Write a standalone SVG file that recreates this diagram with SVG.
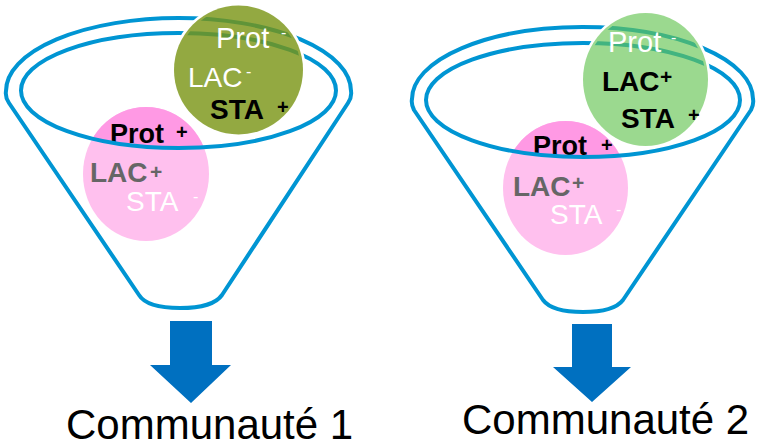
<svg xmlns="http://www.w3.org/2000/svg" width="757" height="448" viewBox="0 0 757 448">
<style>
.funnel{fill:none;stroke:#0095d3;stroke-width:4;stroke-linejoin:round}
.t{font-family:"Liberation Sans",Arial,sans-serif}
.b{font-weight:bold}
.w{fill:#ffffff}
.k{fill:#000000}
.g{fill:#666666}
.halo{fill:none;stroke:#ffffff;stroke-width:5}
.arrow{fill:#0070c0}
.lab{font-family:"Liberation Sans",Arial,sans-serif;font-size:42px;fill:#000}
</style>
<defs>
<clipPath id="in1"><ellipse cx="178.5" cy="90.5" rx="157.5" ry="57.5"/></clipPath>
<clipPath id="in2"><ellipse cx="583" cy="100" rx="157" ry="57"/></clipPath>
</defs>
<rect width="757" height="448" fill="#ffffff"/>

<g id="pink1">
<ellipse cx="146" cy="174" rx="63" ry="67" fill="#ffc0ee"/>
<ellipse cx="146" cy="174" rx="63" ry="67" fill="#ff99e4" clip-path="url(#in1)"/>
<text class="t b k" x="110" y="143" font-size="27">Prot</text>
<text class="t b k" x="176" y="139" font-size="20">+</text>
<text class="t b g" x="90" y="182" font-size="28">LAC</text>
<text class="t b g" x="150" y="179" font-size="21">+</text>
<text class="t w" x="126" y="211" font-size="28">STA</text>
<text class="t w" x="193" y="201.5" font-size="16">-</text>
</g>

<g id="funnel1">
<path class="funnel" d="M139,295 L9,103 Q5,97 6,91 A172.5,73 0 0 1 351,91 Q352,97 348,103 L222,295 Q213,308 180,308 Q147,308 139,295 Z"/>
<ellipse class="funnel" cx="178.5" cy="90.5" rx="157.5" ry="57.5"/>
</g>

<g id="green1">
<circle class="halo" cx="238.5" cy="70" r="64.5"/>
<circle cx="238.5" cy="70" r="64.5" fill="#789311" fill-opacity="0.8"/>
<text class="t w" x="216" y="48" font-size="29">Prot</text>
<text class="t w" x="281" y="37.5" font-size="16">-</text>
<text class="t w" x="188" y="87" font-size="28">LAC</text>
<text class="t w" x="246" y="76.5" font-size="16">-</text>
<text class="t b k" x="210" y="119" font-size="28">STA</text>
<text class="t b k" x="277" y="114" font-size="20">+</text>
</g>

<g id="pink2">
<ellipse cx="565.5" cy="188" rx="62.5" ry="67" fill="#ffc0ee"/>
<ellipse cx="565.5" cy="188" rx="62.5" ry="67" fill="#ff99e4" clip-path="url(#in2)"/>
<text class="t b k" x="533" y="155" font-size="27">Prot</text>
<text class="t b k" x="601" y="152" font-size="20">+</text>
<text class="t b g" x="513" y="196" font-size="28">LAC</text>
<text class="t b g" x="572" y="190" font-size="21">+</text>
<text class="t w" x="550" y="224" font-size="28">STA</text>
<text class="t w" x="616" y="214.5" font-size="16">-</text>
</g>

<g id="funnel2">
<path class="funnel" d="M543,300 L414,110 Q411,104 412,99 A170.5,72 0 0 1 753,99 Q754,104 751,110 L623,300 Q614,312 583,312 Q552,312 543,300 Z"/>
<ellipse class="funnel" cx="583" cy="100" rx="157" ry="57"/>
</g>

<g id="green2">
<ellipse class="halo" cx="645.5" cy="79.5" rx="62.5" ry="66.5"/>
<ellipse cx="645.5" cy="79.5" rx="62.5" ry="66.5" fill="#65c553" fill-opacity="0.65"/>
<text class="t w" x="608" y="52" font-size="29">Prot</text>
<text class="t w" x="671" y="42.5" font-size="16">-</text>
<text class="t b k" x="602" y="91" font-size="28">LAC</text>
<text class="t b k" x="660" y="84" font-size="21">+</text>
<text class="t b k" x="621" y="128" font-size="28">STA</text>
<text class="t b k" x="688" y="122" font-size="20">+</text>
</g>

<g id="connectors">
<path class="arrow" d="M170,321 L212,321 L212,365 L231,365 L191,403 L150,365 L170,365 Z"/>
<path class="arrow" d="M572,324 L612,324 L612,367 L631,367 L592,402 L553,367 L572,367 Z"/>
</g>

<g id="label1"><text class="lab" x="66" y="439">Communauté 1</text></g>
<g id="label2"><text class="lab" x="462" y="434">Communauté 2</text></g>
</svg>
